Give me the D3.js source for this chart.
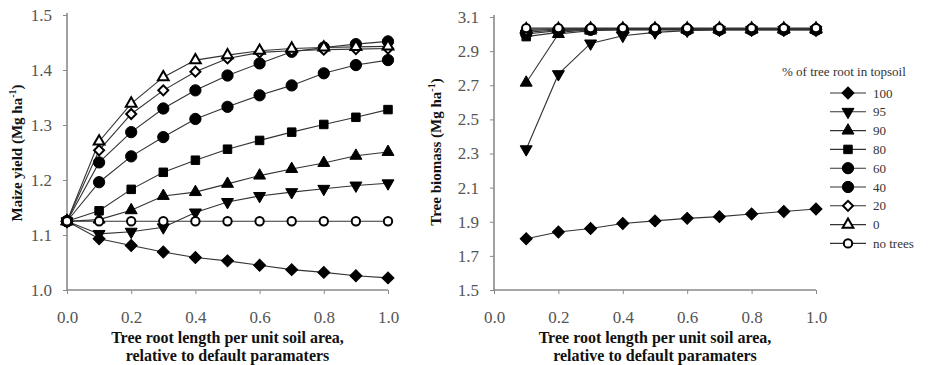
<!DOCTYPE html>
<html>
<head>
<meta charset="utf-8">
<script src="https://cdn.jsdelivr.net/npm/d3@7"></script>
<style>
  html, body { margin: 0; padding: 0; background: #fff; }
  svg { display: block; font-family: "Liberation Serif", "Times New Roman", serif; }
  svg text { font-family: "Liberation Serif", "Times New Roman", serif; }
</style>
</head>
<body>
<svg id="chart" width="937" height="365"></svg>
<script>
// ---------- DATA ----------
const rootLength = [0, 0.1, 0.2, 0.3, 0.4, 0.5, 0.6, 0.7, 0.8, 0.9, 1.0];
const rootLengthTree = [0.1, 0.2, 0.3, 0.4, 0.5, 0.6, 0.7, 0.8, 0.9, 1.0];

const seriesNames = ["100", "95", "90", "80", "60", "40", "20", "0", "no trees"];

// Maize yield (Mg ha-1)
const maize100 = [1.125, 1.093, 1.081, 1.069, 1.059, 1.053, 1.045, 1.037, 1.032, 1.026, 1.022];
const maize95  = [1.125, 1.102, 1.106, 1.114, 1.141, 1.160, 1.171, 1.178, 1.184, 1.190, 1.194];
const maize90  = [1.125, 1.128, 1.145, 1.171, 1.178, 1.193, 1.208, 1.220, 1.231, 1.244, 1.251];
const maize80  = [1.125, 1.144, 1.183, 1.214, 1.236, 1.256, 1.272, 1.287, 1.301, 1.314, 1.328];
const maize60  = [1.125, 1.196, 1.243, 1.278, 1.311, 1.333, 1.354, 1.372, 1.394, 1.409, 1.418];
const maize40  = [1.125, 1.232, 1.287, 1.330, 1.363, 1.390, 1.412, 1.433, 1.441, 1.447, 1.452];
const maize20  = [1.125, 1.254, 1.320, 1.363, 1.397, 1.421, 1.432, 1.435, 1.437, 1.438, 1.439];
const maize0   = [1.125, 1.270, 1.339, 1.387, 1.418, 1.427, 1.435, 1.439, 1.441, 1.442, 1.443];
const maizeNoTrees = [1.125, 1.125, 1.125, 1.125, 1.125, 1.125, 1.125, 1.125, 1.125, 1.125, 1.125];

// Tree biomass (Mg ha-1)
const tree100 = [1.800, 1.840, 1.860, 1.890, 1.905, 1.920, 1.930, 1.945, 1.960, 1.975];
const tree95  = [2.325, 2.765, 2.945, 2.990, 3.010, 3.020, 3.025, 3.025, 3.025, 3.025];
const tree90  = [2.715, 3.000, 3.020, 3.025, 3.025, 3.025, 3.025, 3.025, 3.025, 3.025];
const tree80  = [2.985, 3.010, 3.025, 3.025, 3.025, 3.025, 3.025, 3.025, 3.025, 3.025];
const tree60  = [3.000, 3.020, 3.025, 3.025, 3.025, 3.025, 3.025, 3.025, 3.025, 3.025];
const tree40  = [3.010, 3.025, 3.028, 3.028, 3.028, 3.028, 3.028, 3.028, 3.028, 3.028];
const tree20  = [3.020, 3.028, 3.030, 3.030, 3.030, 3.030, 3.030, 3.030, 3.030, 3.030];
const tree0   = [3.028, 3.030, 3.032, 3.032, 3.032, 3.032, 3.032, 3.032, 3.032, 3.032];
const treeNoTrees = [3.035, 3.035, 3.035, 3.035, 3.035, 3.035, 3.035, 3.035, 3.035, 3.035];

const xTicks = [0, 0.2, 0.4, 0.6, 0.8, 1.0];
const maizeTicks = [1.0, 1.1, 1.2, 1.3, 1.4, 1.5];
const treeTicks = [1.5, 1.7, 1.9, 2.1, 2.3, 2.5, 2.7, 2.9, 3.1];

const maizeSeries = [maize100, maize95, maize90, maize80, maize60, maize40, maize20, maize0, maizeNoTrees];
const treeSeries = [tree100, tree95, tree90, tree80, tree60, tree40, tree20, tree0, treeNoTrees];

// marker styles per series
const markerStyle = [
  { type: d3.symbolSquare, size: 72, fill: "#000", rot: 45 },
  { type: d3.symbolTriangle, size: 62, fill: "#000", rot: 180 },
  { type: d3.symbolTriangle, size: 62, fill: "#000", rot: 0 },
  { type: d3.symbolSquare, size: 72, fill: "#000", rot: 0 },
  { type: d3.symbolCircle, size: 100, fill: "#000", rot: 0 },
  { type: d3.symbolCircle, size: 100, fill: "#000", rot: 0 },
  { type: d3.symbolSquare, size: 50, fill: "#fff", rot: 45 },
  { type: d3.symbolTriangle, size: 50, fill: "#fff", rot: 0 },
  { type: d3.symbolCircle, size: 55, fill: "#fff", rot: 0 }
];

// ---------- DRAW ----------
const svg = d3.select("#chart");
const axisColor = "#8a8a8a";
const tickTextColor = "#555";
const FONT = "Liberation Serif";

function drawPanel(opt) {
  const x = d3.scaleLinear().domain([0, 1]).range([opt.x0, opt.x1]);
  const y = d3.scaleLinear().domain(opt.yDomain).range([opt.yBottom, opt.yTop]);
  const g = svg.append("g");

  const xAxis = g.append("g").attr("transform", `translate(0,${opt.yBottom})`)
    .call(d3.axisBottom(x).tickValues(xTicks).tickFormat(d3.format(".1f")).tickSize(4).tickPadding(17));
  const yAxis = g.append("g").attr("transform", `translate(${opt.x0},0)`)
    .call(d3.axisLeft(y).tickValues(opt.yTicks).tickFormat(d3.format(".1f")).tickSize(4).tickPadding(11));
  [xAxis, yAxis].forEach(a => {
    a.attr("font-family", FONT);
    a.select(".domain").attr("stroke", axisColor).attr("stroke-width", 1.6);
    a.selectAll(".tick line").attr("stroke", axisColor).attr("stroke-width", 1);
    a.selectAll(".tick text").attr("fill", tickTextColor)
      .attr("font-family", FONT).attr("font-size", 17);
  });
  xAxis.select(".domain").attr("d", `M${opt.x0},0H${opt.x1}`);
  yAxis.select(".domain").attr("d", `M0,${opt.yTop - 2}V${opt.yBottom}`);

  const line = d3.line().x((d, i) => x(opt.xs[i])).y(d => y(d));
  opt.series.forEach((vals) => {
    g.append("path").datum(vals).attr("d", line)
      .attr("fill", "none").attr("stroke", "#333").attr("stroke-width", 1.1);
  });
  opt.series.forEach((vals, si) => {
    const m = markerStyle[si];
    const sym = d3.symbol().type(m.type).size(m.size);
    g.selectAll(null).data(vals).enter().append("path")
      .attr("d", sym)
      .attr("transform", (d, i) => `translate(${x(opt.xs[i])},${y(d)}) rotate(${m.rot})`)
      .attr("fill", m.fill).attr("stroke", "#000").attr("stroke-width", m.fill === "#fff" ? 2 : 1);
  });

  // x title
  const cx = (opt.x0 + opt.x1) / 2;
  const xt = g.append("text").attr("text-anchor", "middle").attr("font-family", FONT)
    .attr("font-weight", "bold").attr("font-size", 16).attr("fill", "#111");
  xt.append("tspan").attr("x", cx).attr("y", 343).text("Tree root length per unit soil area,");
  xt.append("tspan").attr("x", cx).attr("y", 361).text("relative to default paramaters");

  // y title
  const yt = g.append("text").attr("text-anchor", "middle").attr("font-family", FONT)
    .attr("transform", `translate(${opt.yTitleX},${opt.yTitleY}) rotate(-90)`)
    .attr("font-weight", "bold").attr("font-size", 15).attr("fill", "#111");
  yt.append("tspan").text(opt.yTitle + " (Mg ha");
  yt.append("tspan").attr("dy", -6).attr("font-size", 10).text("-1");
  yt.append("tspan").attr("dy", 6).text(")");
  return { x, y };
}

drawPanel({
  x0: 67, x1: 388, yTop: 15, yBottom: 290,
  yDomain: [1.0, 1.5], yTicks: maizeTicks,
  xs: rootLength, series: maizeSeries,
  yTitle: "Maize yield", yTitleX: 22, yTitleY: 153
});

drawPanel({
  x0: 494, x1: 816, yTop: 17, yBottom: 290,
  yDomain: [1.5, 3.1], yTicks: treeTicks,
  xs: rootLengthTree, series: treeSeries,
  yTitle: "Tree biomass", yTitleX: 441, yTitleY: 152
});

// ---------- LEGEND ----------
const leg = svg.append("g").attr("font-family", FONT);
leg.append("text").attr("x", 782).attr("y", 76).attr("font-size", 13).attr("fill", "#333")
  .text("% of tree root in topsoil");
const legY0 = 93, legStep = 18.8;
seriesNames.forEach((name, si) => {
  const yy = legY0 + si * legStep;
  const m = markerStyle[si];
  leg.append("line").attr("x1", 830).attr("x2", 866).attr("y1", yy).attr("y2", yy)
    .attr("stroke", "#333").attr("stroke-width", 1.1);
  leg.append("path").attr("d", d3.symbol().type(m.type).size(m.size)())
    .attr("transform", `translate(848,${yy}) rotate(${m.rot})`)
    .attr("fill", m.fill).attr("stroke", "#000").attr("stroke-width", m.fill === "#fff" ? 2 : 1);
  leg.append("text").attr("x", 873).attr("y", yy + 4.5).attr("font-size", 13).attr("fill", "#333")
    .text(name);
});
</script>
</body>
</html>
